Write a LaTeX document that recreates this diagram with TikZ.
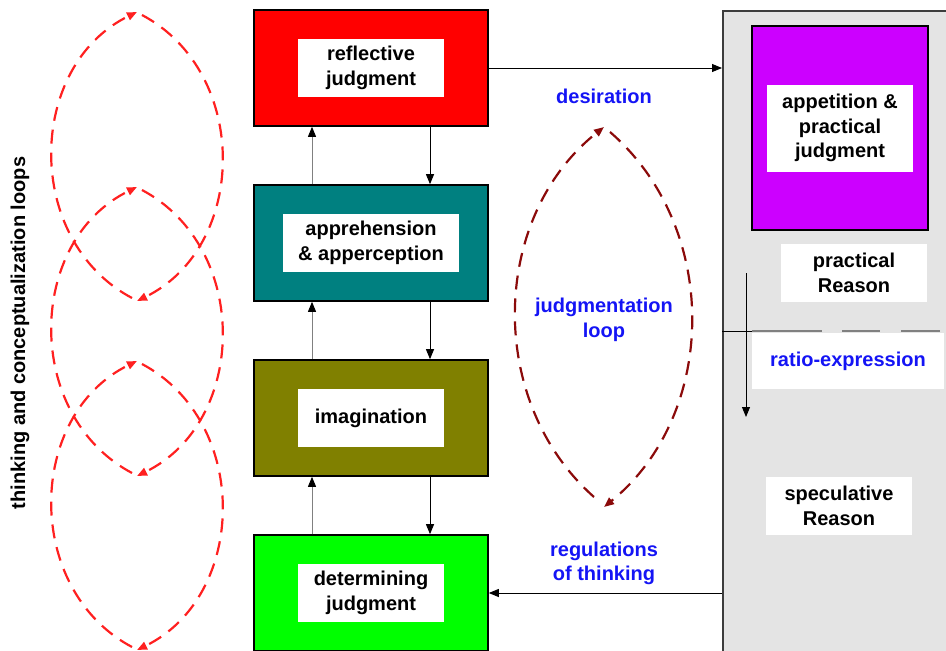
\documentclass[tikz,border=0pt]{standalone}
\usepackage{fontspec}
\setmainfont{Liberation Sans}
\usetikzlibrary{positioning}
\usetikzlibrary{arrows.meta}

\definecolor{stagered}{HTML}{FF0000}
\definecolor{stageteal}{HTML}{008080}
\definecolor{stageolive}{HTML}{808000}
\definecolor{stagegreen}{HTML}{00FF00}
\definecolor{appetite}{HTML}{CC00FF}
\definecolor{panelgray}{HTML}{E4E4E4}
\definecolor{panelline}{HTML}{3C3C3C}
\definecolor{notes}{HTML}{1414F5}
\definecolor{loopred}{HTML}{FF2020}
\definecolor{loopdark}{HTML}{8B0A0A}

\begin{document}
\begin{tikzpicture}[x=1pt,y=1pt,
	font=\fontsize{20}{24.5}\selectfont\bfseries,
	node distance=57.4pt,
	stage/.style={draw=black,line width=1.6pt,minimum width=234pt,minimum height=116pt,inner sep=0pt},
	textbox/.style={fill=white,inner sep=0pt,minimum width=146pt,minimum height=58pt,align=center},
	note/.style={text=notes,align=center},
	flow/.style={line width=0.9pt,-{Triangle[length=10pt,width=8pt,color=black]}},
	circuit/.style={loopred,line width=2.2pt,dash pattern=on 14pt off 9pt,-{Triangle[length=10pt,width=8pt]}},
	circuitdark/.style={circuit,loopdark}]
	\path[use as bounding box,clip] (0,0) rectangle (946,-651);

	% stages of judgment
	\node[stage,fill=stagered] (refl) at (371,-68) {};
	\node[stage,fill=stageteal,below=of refl] (appr) {};
	\node[stage,fill=stageolive,below=of appr] (imag) {};
	\node[stage,fill=stagegreen,below=of imag] (detm) {};
	\node[textbox] (refl-t) at (refl) {reflective\\judgment};
	\node[textbox,minimum width=176pt] (appr-t) at (appr) {apprehension\\\& apperception};
	\node[textbox] (imag-t) at (imag) {imagination};
	\node[textbox] (detm-t) at (detm) {determining\\judgment};

	% reason panel
	\node[draw=panelline,fill=panelgray,line width=1.6pt,minimum width=260pt,minimum height=680pt,anchor=north west] (panel) at (722,-10) {};
	\node[draw=black,fill=appetite,line width=2pt,minimum width=176pt,minimum height=204pt,inner sep=0pt,anchor=north west] (appt) at (751,-25) {};
	\node[textbox,minimum height=87pt] (appt-t) at (appt) {appetition \&\\practical\\judgment};
	\node[textbox] (prac) at (854,-273) {practical\\Reason};
	\node[textbox,minimum width=192pt,minimum height=56pt] (ratio) at (848,-361) {\textcolor{notes}{ratio-expression}};
	\node[textbox] (spec) at (839,-506) {speculative\\Reason};
	\coordinate (cut) at (722,-331);
	\draw[black,line width=1pt] (cut) -- ++(30,0);
	\draw[gray,line width=1.2pt,dash pattern=on 70pt off 20pt on 38pt off 21pt on 39pt off 20pt] ([xshift=30pt]cut) -- ++(200,0);
	\coordinate (pr-top) at (746,-273);
	\coordinate (pr-bot) at (746,-417);
	\draw[flow] (pr-top) -- (pr-bot);

	% arrows between stages
	\foreach \a/\b in {appr/refl,imag/appr,detm/imag}
		\draw[flow,draw=gray] ([xshift=-59pt]\a.north) -- ([xshift=-59pt]\b.south);
	\foreach \a/\b in {refl/appr,appr/imag,imag/detm}
		\draw[flow] ([xshift=59pt]\a.south) -- ([xshift=59pt]\b.north);
	\draw[flow] (refl.east) -- (refl.east -| panel.west);
	\draw[flow] (detm.east -| panel.west) -- (detm.east);

	% judgmentation loop
	\node[note] (desi) at (604,-96) {desiration};
	\node[note] (jloop) at (604,-320) {judgmentation\\loop};
	\node[note] (regu) at (604,-563.5) {regulations\\of thinking};
	\coordinate (j-top) at (604,-127);
	\coordinate (j-bot) at (604,-507);
	\draw[circuitdark] ([xshift=-10pt,yshift=10pt]j-bot) to[bend left=50,looseness=1.0] (j-top);
	\draw[circuitdark] ([xshift=6pt,yshift=-5pt]j-top) to[bend left=50,looseness=1.0] (j-bot);

	% thinking and conceptualization loops
	\node[rotate=90] (loops) at (20,-333) {thinking and conceptualization loops};
	\foreach \i/\y in {1/12,2/187,3/361} {
		\coordinate (t\i) at (137,-\y);
		\coordinate (b\i) at (137,-\y-289);
		\draw[circuit] ([xshift=-5pt,yshift=3pt]b\i) to[bend left=63,looseness=1.1] (t\i);
		\draw[circuit] ([xshift=5pt,yshift=-3pt]t\i) to[bend left=63,looseness=1.1] (b\i);
	}
\end{tikzpicture}
\end{document}
